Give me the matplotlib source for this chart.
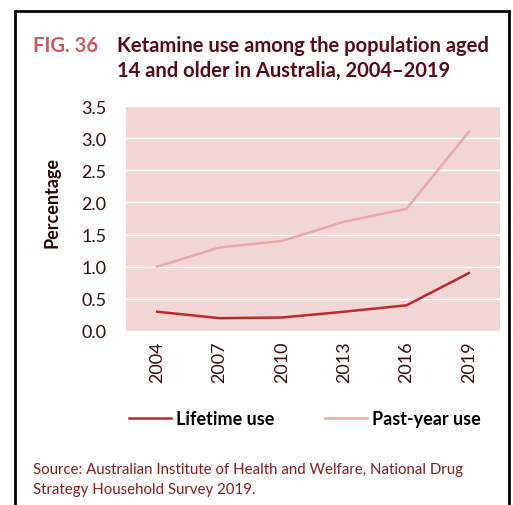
import matplotlib.pyplot as plt
from matplotlib.lines import Line2D
from matplotlib.patches import Rectangle

years = ['2004', '2007', '2010', '2013', '2016', '2019']
lifetime = [0.3, 0.2, 0.21, 0.3, 0.4, 0.9]
past_year = [1.0, 1.3, 1.4, 1.7, 1.9, 3.1]
yticks = [0.0, 0.5, 1.0, 1.5, 2.0, 2.5, 3.0, 3.5]

plt.rcParams['font.family'] = ['Lato', 'DejaVu Sans']

W, H = 513, 506
fig = plt.figure(figsize=(W / 100, H / 100), dpi=100)
ax = fig.add_axes([126 / W, 1 - 332 / H, (500 - 126) / W, (332 - 107) / H])

dark = '#c0282d'
light = '#e8abab'
ax.set_facecolor('#f2d6d6')
ax.plot(range(len(years)), lifetime, color=dark, lw=1.8, zorder=3)
ax.plot(range(len(years)), past_year, color=light, lw=1.8, zorder=3)

ax.set_xlim(-0.5, len(years) - 0.5)
ax.set_ylim(0, 3.5)
ax.set_yticks(yticks)
ax.set_yticklabels([f'{v:.1f}' for v in yticks], fontsize=13, color='#3a0c10')
ax.set_xticks(range(len(years)))
ax.set_xticklabels(years, rotation=90, fontsize=13, color='#3a0c10')
ax.tick_params(axis='x', length=0, pad=7)
ax.tick_params(axis='y', length=0, pad=14)
ax.yaxis.grid(True, color='white', lw=1)
ax.set_axisbelow(True)
for s in ax.spines.values():
    s.set_visible(False)
ax.set_ylabel('Percentage', fontsize=13, fontweight='bold', color='#2a0508')
ax.yaxis.set_label_coords(-0.174, 0.575)

# frame
fig.patches.append(Rectangle((15 / W, -0.1), (509 - 15) / W, 1.1 - 12 / H,
                             transform=fig.transFigure, fill=False, ec='black', lw=2))

fig.text(33 / W, 1 - 46 / H, 'FIG. 36', fontsize=14.5, fontweight='bold', color='#d0585e', va='center')
fig.text(117 / W, 1 - 46 / H, 'Ketamine use among the population aged',
         fontsize=14.5, fontweight='bold', color='#5a0a14', va='center')
fig.text(117 / W, 1 - 71 / H, '14 and older in Australia, 2004\u20132019',
         fontsize=14.5, fontweight='bold', color='#5a0a14', va='center')

handles = [Line2D([], [], color=dark, lw=1.8), Line2D([], [], color=light, lw=1.8)]
fig.legend(handles, ['Lifetime use', 'Past-year use'], loc='center', bbox_to_anchor=(305 / W, 1 - 420 / H),
           ncol=2, frameon=False, prop={'size': 13, 'weight': 'bold'},
           handlelength=2.3, handletextpad=0.3, columnspacing=2.8)

fig.text(33 / W, 1 - 470 / H, 'Source: Australian Institute of Health and Welfare, National Drug',
         fontsize=10.8, color='#8a1a1e', va='center')
fig.text(33 / W, 1 - 490 / H, 'Strategy Household Survey 2019.',
         fontsize=10.8, color='#8a1a1e', va='center')

fig.savefig('out.png', dpi=100)
